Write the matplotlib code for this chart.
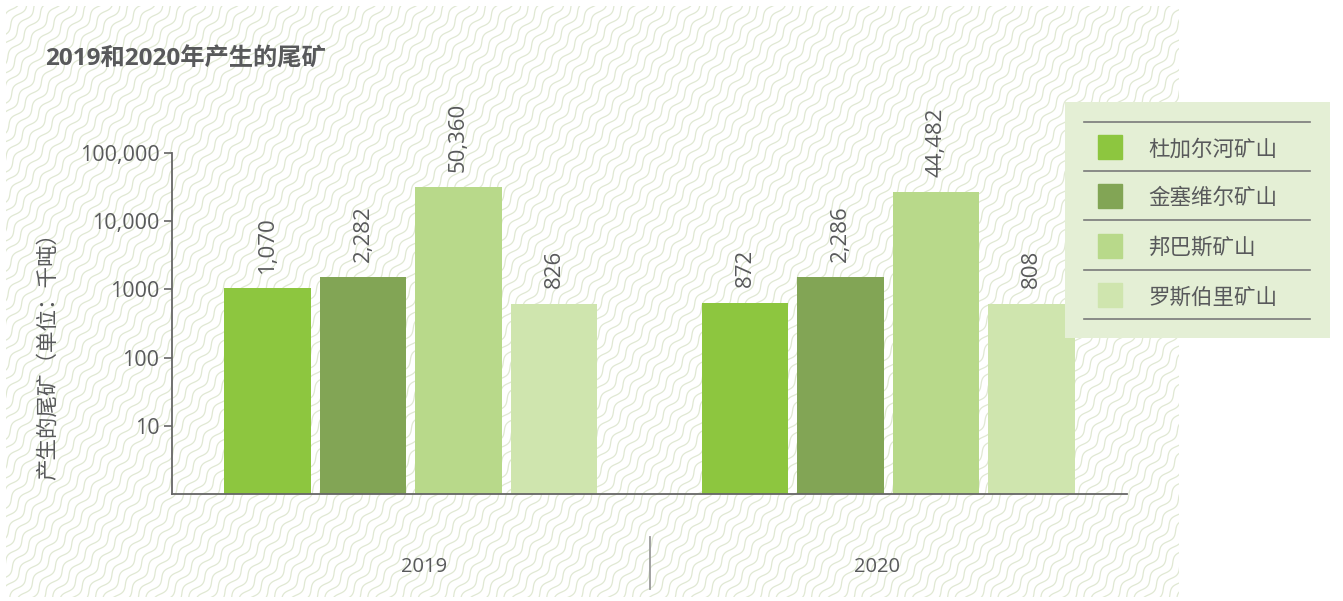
import numpy as np
import matplotlib
matplotlib.use("Agg")
from matplotlib import pyplot as plt
from matplotlib.collections import LineCollection
from matplotlib.patches import Rectangle

plt.rcParams['font.family'] = ['Open Sans', 'Noto Sans CJK SC', 'DejaVu Sans']

# data
years = ['2019', '2020']
mines = ['杜加尔河矿山', '金塞维尔矿山', '邦巴斯矿山', '罗斯伯里矿山']
colors = ['#8dc63f', '#82a555', '#b8d98a', '#cfe5ae']
# bar heights as drawn in the picture (thousand tonnes)
heights_2019 = [1030, 1500, 31500, 620]
heights_2020 = [640, 1500, 26700, 620]
# labels printed on top of the bars
labels_2019 = ['1,070', '2,282', '50,360', '826']
labels_2020 = ['872', '2,286', '44,482', '808']
yticks = [10, 100, 1000, 10000, 100000]
ytick_labels = ['10', '100', '1000', '10,000', '100,000']

text_grey = '#58595b'

fig = plt.figure(figsize=(13.43, 6.01), dpi=100)

# wavy background texture
bg = fig.add_axes([0, 0, 1, 1], zorder=-5)
bg.set_xlim(0, 1343)
bg.set_ylim(601, 0)
bg.axis('off')
ang = np.deg2rad(53)
d = np.array([np.cos(ang), -np.sin(ang)])
n = np.array([np.sin(ang), np.cos(ang)])
t = np.arange(-560, 860, 1.2)
segs = []
for s in np.arange(-10, 1500, 8.4):
    off = s + 2.4 * np.sin(2 * np.pi * t / 27.0)
    pts = np.outer(t, d) + np.outer(off, n)
    segs.append(pts)
lc = LineCollection(segs, colors='#e0e8d3', linewidths=0.9)
bg.add_collection(lc)
clip = Rectangle((6, 6), 1173, 591, transform=bg.transData)
lc.set_clip_path(clip)

# main chart
ax = fig.add_axes([172 / 1343, 1 - 494 / 601, 955 / 1343, 341 / 601])
ax.patch.set_alpha(0)
ax.set_yscale('log')
ax.set_ylim(1, 100000)
ax.set_xlim(0, 10)

x19 = np.arange(1, 5)
x20 = np.arange(6, 10)
for xs, hs, labs in [(x19, heights_2019, labels_2019), (x20, heights_2020, labels_2020)]:
    bars = ax.bar(xs, hs, width=0.91, color=colors, bottom=1)
    for b, lab in zip(bars, labs):
        ax.annotate(lab, (b.get_x() + b.get_width() / 2, b.get_height()),
                    xytext=(0, 11), textcoords='offset points', rotation=90,
                    ha='center', va='bottom', fontsize=16, color=text_grey)

ax.set_yticks(yticks)
ax.set_yticklabels(ytick_labels)
ax.minorticks_off()
ax.set_xticks([])
ax.tick_params(axis='y', length=6, width=1.2, color='#666666', labelsize=15.5,
               labelcolor=text_grey, pad=3)
for side in ['top', 'right']:
    ax.spines[side].set_visible(False)
for side in ['left', 'bottom']:
    ax.spines[side].set_color('#666666')
    ax.spines[side].set_linewidth(1.3)

# category labels and separator
ax.text(2.64, -0.214, years[0], transform=ax.get_xaxis_transform(), ha='center',
        va='center', fontsize=14.5, color=text_grey)
ax.text(7.38, -0.214, years[1], transform=ax.get_xaxis_transform(), ha='center',
        va='center', fontsize=14.5, color=text_grey)
ax.plot([5, 5], [-0.126, -0.28], transform=ax.get_xaxis_transform(),
        color='#9a9a9a', lw=1.3, clip_on=False)

fig.text(45 / 1343, 1 - 60 / 601, '2019和2020年产生的尾矿', fontsize=17.5,
         fontweight='bold', color=text_grey, ha='left', va='center')
fig.text(48 / 1343, 1 - 351 / 601, '产生的尾矿（单位：千吨）', rotation=90,
         fontsize=15.5, color=text_grey, ha='center', va='center')

# legend box
leg = fig.add_axes([1065 / 1343, 1 - 338 / 601, 265 / 1343, 236 / 601])
leg.set_xlim(0, 265)
leg.set_ylim(236, 0)
leg.set_facecolor('#e4efd5')
leg.set_xticks([])
leg.set_yticks([])
for sp in leg.spines.values():
    sp.set_visible(False)
line_y = [20, 69, 118, 168, 217]
for y in line_y:
    leg.plot([19, 245], [y, y], color='#7a7a7a', lw=1.2)
for i, (name, c) in enumerate(zip(mines, colors)):
    yc = (line_y[i] + line_y[i + 1]) / 2
    leg.add_patch(Rectangle((33, yc - 11.5), 24, 24, color=c))
    leg.text(83, yc + 3.5, name, fontsize=15.5, color=text_grey, va='center', ha='left')

fig.savefig('out.png', dpi=100)
